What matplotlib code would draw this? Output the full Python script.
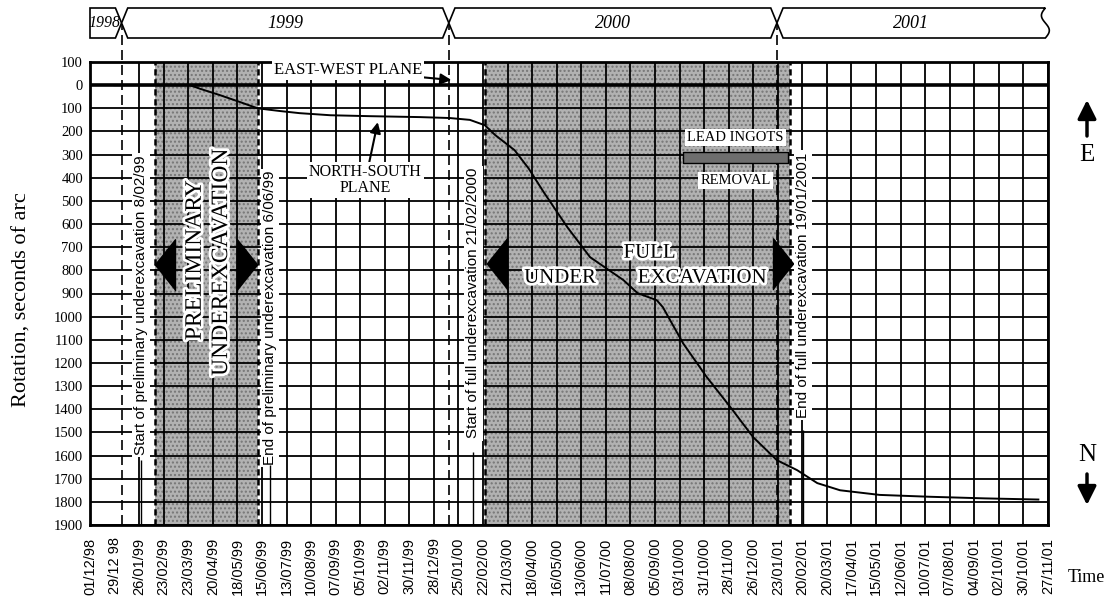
import matplotlib

matplotlib.use("Agg")
import matplotlib.dates as mdates
import matplotlib.patheffects as pe
import matplotlib.pyplot as plt
import matplotlib.transforms as mtransforms
import numpy as np
import pandas as pd

# ---- data ----
tick_dates = pd.date_range("1998-12-01", periods=40, freq="28D")
tick_labels = [
    "01/12/98", "29/12 98", "26/01/99", "23/02/99", "23/03/99", "20/04/99",
    "18/05/99", "15/06/99", "13/07/99", "10/08/99", "07/09/99", "05/10/99",
    "02/11/99", "30/11/99", "28/12/99", "25/01/00", "22/02/00", "21/03/00",
    "18/04/00", "16/05/00", "13/06/00", "11/07/00", "08/08/00", "05/09/00",
    "03/10/00", "31/10/00", "28/11/00", "26/12/00", "23/01/01", "20/02/01",
    "20/03/01", "17/04/01", "15/05/01", "12/06/01", "10/07/01", "07/08/01",
    "04/09/01", "02/10/01", "30/10/01", "27/11/01",
]
rot_ticks = list(range(-100, 1901, 100))

ns_dates = [
    "1998-12-29", "1999-03-25", "1999-04-05", "1999-04-28", "1999-05-21",
    "1999-06-10", "1999-07-06", "1999-07-28", "1999-09-01", "1999-10-16",
    "1999-12-12", "2000-01-15", "2000-02-07", "2000-02-24", "2000-03-07",
    "2000-03-29", "2000-04-14", "2000-05-02", "2000-05-28", "2000-06-23",
    "2000-07-31", "2000-08-16", "2000-09-07", "2000-09-14", "2000-10-07",
    "2000-11-03", "2000-11-30", "2000-12-26", "2001-01-22", "2001-02-14",
    "2001-03-09", "2001-04-04", "2001-05-19", "2001-07-15", "2001-09-16",
    "2001-11-16",
]
ns_rotation = [
    0, 0, 15, 43, 73, 100, 112, 121, 130, 134,
    138, 142, 150, 173, 216, 281, 360, 467, 613, 743,
    842, 898, 929, 959, 1115, 1261, 1391, 1521, 1620, 1663,
    1719, 1750, 1770, 1778, 1785, 1790,
]
ew_dates = ["1998-12-01", "2001-11-27"]
ew_rotation = [0, 0]

year_names = ["1998", "1999", "2000", "2001"]
year_edges = ["1998-12-01", "1999-01-06", "2000-01-14", "2001-01-22", "2001-11-24"]

phase_starts = ["1999-02-13", "2000-02-24"]
phase_ends = ["1999-06-10", "2001-02-06"]
ingot_span = ["2000-10-07", "2001-02-04"]
ingot_rotation = [290, 337]

W, H = 1120, 607
SERIF = "Liberation Serif"
SANS = "Liberation Sans"
plt.rcParams["font.family"] = SERIF


def px_box(left, top, right, bottom):
    return [left / W, 1 - bottom / H, (right - left) / W, (bottom - top) / H]


def dn(s):
    return mdates.date2num(pd.Timestamp(s))


fig = plt.figure(figsize=(11.2, 6.07), dpi=100)
ax = fig.add_axes(px_box(90, 62, 1048, 525))

tick_x = mdates.date2num(tick_dates)
x0, x1 = tick_x[0], tick_x[-1]
ax.set_xlim(x0, x1)
ax.set_ylim(1900, -100)

# shaded excavation periods
for s, e in zip(phase_starts, phase_ends):
    ax.axvspan(dn(s), dn(e), facecolor="#b2b2b2", edgecolor="#767676",
               hatch="....", lw=0, zorder=0)

# heavy grid
ax.vlines([t for i, t in enumerate(tick_x) if i != 1], -100, 1900,
          colors="k", lw=1.3, zorder=1)
ax.hlines(rot_ticks, x0, x1, colors="k", lw=1.3, zorder=1)

# phase boundaries
for d in phase_starts + phase_ends:
    ax.axvline(dn(d), color="k", lw=1.8, ls=(0, (2.5, 1.5)), zorder=2)

# year separators running up into the banner
trans = mtransforms.blended_transform_factory(ax.transData, ax.transAxes)
for d in year_edges[1:-1]:
    ax.plot([dn(d), dn(d)], [0, 1.084], transform=trans, color="k", lw=1.2,
            ls=(0, (6, 3)), clip_on=False, zorder=2)

# measured rotations
ax.plot(mdates.date2num(pd.to_datetime(ew_dates)), ew_rotation, color="k",
        lw=2.6, zorder=3)
ax.plot(mdates.date2num(pd.to_datetime(ns_dates)), ns_rotation, color="k",
        lw=1.4, zorder=3)

# lead ingot removal bar
ax.fill_between([dn(ingot_span[0]), dn(ingot_span[1])], ingot_rotation[0],
                ingot_rotation[1], facecolor="#6e6e6e", edgecolor="k", lw=1,
                zorder=4)

# ticks
ax.set_xticks(tick_x)
ax.set_xticklabels(tick_labels, rotation=90, family=SANS, fontsize=10.5)
ax.set_yticks(rot_ticks)
ax.set_yticklabels([str(abs(v)) for v in rot_ticks], fontsize=10.5)
ax.tick_params(length=0, pad=5)
ax.tick_params(axis="x", pad=9)
for sp in ax.spines.values():
    sp.set_linewidth(2)
    sp.set_zorder(5)

# big phase arrows (triangles)
left_tri = [(-0.8, 0), (0, 1), (0, -1)]
right_tri = [(0.8, 0), (0, 1), (0, -1)]
for d, v, m in [("1999-03-08", 778, left_tri), ("1999-05-18", 778, right_tri),
                ("2000-03-20", 773, left_tri), ("2001-01-18", 773, right_tri)]:
    ax.plot(dn(d), v, marker=m, markersize=37, color="k", zorder=6)

halo = [pe.withStroke(linewidth=4, foreground="white")]
white_box = dict(facecolor="white", edgecolor="none", pad=1.5)

ax.text(dn("1999-03-31"), 756, "PRELIMINARY", rotation=90, ha="center",
        va="center", fontsize=17, zorder=6, path_effects=halo)
ax.text(dn("1999-04-30"), 765, "UNDEREXCAVATION", rotation=90, ha="center",
        va="center", fontsize=17, zorder=6, path_effects=halo)
ax.text(dn("2000-05-20"), 834, "UNDER", ha="center", va="center",
        fontsize=15, zorder=6, path_effects=halo)
ax.text(dn("2000-08-30"), 726, "FULL", ha="center", va="center",
        fontsize=15, zorder=6, path_effects=halo)
ax.text(dn("2000-10-29"), 834, "EXCAVATION", ha="center", va="center",
        fontsize=15, zorder=6, path_effects=halo)

# rotated event notes with leader lines
notes = [
    ("1999-01-28", 950, 1620, "Start of preliminary underexcavation 8/02/99"),
    ("1999-06-24", 1006, 1641, "End of preliminary underexcavation 6/06/99"),
    ("2000-02-11", 942, 1585, "Start of full underexcavation 21/02/2000"),
    ("2001-02-21", 864, 1490, "End of full underexcavation 19/01/2001"),
]
for d, v, v_end, txt in notes:
    ax.text(dn(d), v, txt, rotation=90, ha="center", va="center",
            family=SANS, fontsize=11, bbox=white_box, zorder=7)
    ax.vlines(dn(d), v_end, 1900, colors="k", lw=1, zorder=7)

ax.text(dn("2000-12-06"), 225, "LEAD INGOTS", ha="center", va="center",
        fontsize=10.5, bbox=white_box, zorder=7)
ax.text(dn("2000-12-06"), 410, "REMOVAL", ha="center", va="center",
        fontsize=10.5, bbox=white_box, zorder=7)

arrow = dict(arrowstyle="-|>", color="k", lw=1.5, mutation_scale=16,
             shrinkA=0, shrinkB=0)
ax.annotate("EAST-WEST PLANE", xy=(dn("2000-01-17"), -22),
            xytext=(dn("1999-09-21"), -65), ha="center", va="center",
            fontsize=12, bbox=white_box, arrowprops=arrow, zorder=7)
ax.annotate("NORTH-SOUTH\nPLANE", xy=(dn("1999-10-25"), 160),
            xytext=(dn("1999-10-11"), 410), ha="center", va="center",
            fontsize=11.5, linespacing=1.0, bbox=white_box,
            arrowprops=arrow, zorder=7)

# year banner
bx = fig.add_axes(px_box(90, 8, 1048, 38))
bx.set_xlim(x0, x1)
bx.set_ylim(0, 1)
bx.axis("off")
edges = [dn(e) for e in year_edges]
dlt = 7
for i, name in enumerate(year_names):
    a, b = edges[i], edges[i + 1]
    if i == 0:
        xs = [a, b - dlt, b, b - dlt, a, a]
        ys = [1, 1, 0.5, 0, 0, 1]
    elif i == len(year_names) - 1:
        yy = np.linspace(1, 0, 30)
        xs = [a + dlt, a, a + dlt] + list(b + 4.5 * np.sin(2 * np.pi * yy)) + [a + dlt]
        ys = [0, 0.5, 1] + list(yy) + [0]
    else:
        xs = [a + dlt, b - dlt, b, b - dlt, a + dlt, a, a + dlt]
        ys = [1, 1, 0.5, 0, 0, 0.5, 1]
    bx.fill(xs, ys, facecolor="white", edgecolor="k", lw=1.2, clip_on=False)
    bx.text((a + b) / 2 - (2 if i == 0 else 0), 0.5, name, ha="center",
            va="center", style="italic", fontsize=11.5 if i == 0 else 13)

# axis titles and compass marks
fig.text(22 / W, 1 - 300 / H, "Rotation, seconds of arc", rotation=90,
         ha="center", va="center", fontsize=16)
fig.text(1086 / W, 1 - 577 / H, "Time", ha="center", va="center", fontsize=13)
fig.text(1087 / W, 1 - 155 / H, "E", ha="center", va="center", fontsize=18)
fig.text(1087 / W, 1 - 455 / H, "N", ha="center", va="center", fontsize=18)
big_arrow = dict(arrowstyle="-|>", color="k", lw=2.5, mutation_scale=28,
                 shrinkA=0, shrinkB=0)
fig.add_artist(matplotlib.patches.FancyArrowPatch(
    (1087, H - 136), (1087, H - 100), transform=None, **big_arrow))
fig.add_artist(matplotlib.patches.FancyArrowPatch(
    (1087, H - 474), (1087, H - 505), transform=None, **big_arrow))

fig.savefig("out.png", dpi=100)
